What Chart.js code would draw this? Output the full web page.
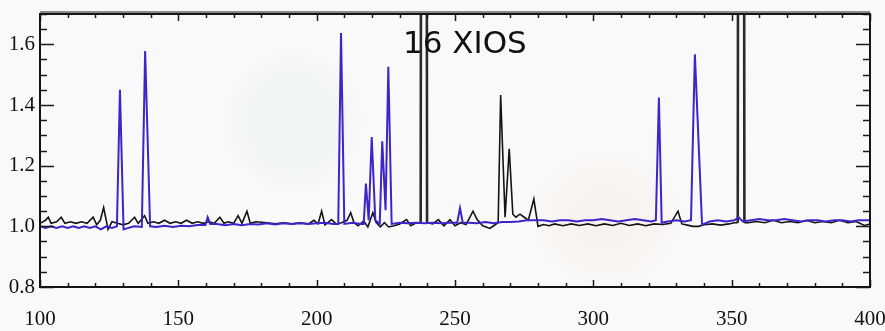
<!DOCTYPE html>
<html lang="en">
<head>
  <meta charset="UTF-8">
  <title>16 XIOS</title>
  <script src="https://cdn.jsdelivr.net/npm/chart.js"></script>
  <style>
    html, body { margin: 0; padding: 0; }
    body {
      width: 885px;
      height: 331px;
      overflow: hidden;
      position: relative;
      background:
        radial-gradient(ellipse 70px 72px at 293px 122px, rgba(240,243,244,0.95) 0, rgba(241,244,245,0.8) 50px, rgba(249,249,249,0) 72px),
        radial-gradient(ellipse 75px 70px at 606px 218px, rgba(248,242,239,0.95) 0, rgba(248,243,240,0.8) 52px, rgba(249,249,249,0) 75px),
        #f9f9f9;
    }
    #chart { position: absolute; left: 0; top: 0; }
    #label {
      position: absolute;
      left: 403px;
      top: 24px;
      font: 31px "DejaVu Sans", sans-serif;
      color: #111;
      white-space: nowrap;
    }
  </style>
</head>
<body>
  <canvas id="chart" width="885" height="331"></canvas>
  <div id="label">16 XIOS</div>

  <script>
    // tick labels
    const xTickLabels = [100, 150, 200, 250, 300, 350, 400];
    const yTickLabels = [0.8, 1.0, 1.2, 1.4, 1.6];

    // black series (x, y)
    const blackX = [100, 102, 103, 104, 106, 107.7, 109, 111, 113, 115, 117, 119.2, 120.5, 121.8, 123, 124.6, 126, 128, 130, 132,
      134.2, 135.5, 137.8, 139, 141, 143, 145, 147, 149, 151, 153, 155, 157, 159, 161, 163, 165, 166.5, 168, 170,
      171.6, 173, 174.8, 176, 178, 182, 185, 188, 191, 194, 197, 199, 200.5, 201.8, 203, 205.4, 207, 209, 211, 212.3,
      213.5, 215, 217, 218.5, 220.3, 221.5, 223, 224.5, 226, 228, 230, 232.5, 234, 236, 237.6, 238.8, 239.9, 242, 244, 246,
      248.2, 250, 252, 254, 256.5, 258, 260, 262.6, 264, 265.6, 266.5, 268.1, 269.6, 270.9, 272, 273.5, 275, 276.5, 278.5, 280,
      282, 284, 286, 289, 292, 295, 298, 301, 304, 307, 310, 313, 316, 319, 322, 325, 328, 330.6, 332, 334,
      336, 338, 340, 343, 346, 349, 351, 352.2, 353.4, 354.6, 356, 359, 362, 365, 368, 371, 374, 377, 380, 383,
      386, 389, 392, 395, 398, 400];
    const blackY = [1.01, 1.02, 1.03, 1.01, 1.015, 1.03, 1.01, 1.015, 1.01, 1.015, 1.01, 1.03, 1.005, 1.02, 1.062, 0.99, 1.015, 1.01, 1.005, 1.01,
      1.03, 1.01, 1.035, 1.01, 1.015, 1.01, 1.02, 1.01, 1.015, 1.01, 1.02, 1.01, 1.015, 1.01, 1.015, 1.01, 1.03, 1.01, 1.015, 1.01,
      1.035, 1.01, 1.05, 1.01, 1.015, 1.012, 1.008, 1.012, 1.008, 1.012, 1.008, 1.02, 1.008, 1.05, 1.005, 1.022, 1.008, 1.012, 1.02, 1.045,
      1.012, 1.002, 1.018, 0.998, 1.045, 1.012, 0.998, 1.012, 0.998, 1.002, 1.008, 1.022, 1.002, 1.012, 1.012, 12, 1.012, 1.008, 1.022, 1.002,
      1.022, 1.002, 1.012, 1.006, 1.05, 1.022, 1.002, 0.993, 1.002, 1.012, 1.433, 1.03, 1.256, 1.04, 1.03, 1.04, 1.03, 1.02, 1.09, 1.0,
      1.006, 1.002, 1.008, 1.002, 1.008, 1.003, 1.008, 1.002, 1.008, 1.003, 1.01, 1.003, 1.008, 1.002, 1.008, 1.006, 1.01, 1.05, 1.008, 1.004,
      1.0, 1.0, 1.005, 1.008, 1.004, 1.008, 1.012, 1.012, 12, 1.012, 1.012, 1.016, 1.012, 1.02, 1.012, 1.016, 1.012, 1.02, 1.012, 1.016,
      1.012, 1.02, 1.012, 1.016, 1.003, 1.008];

    // blue series (x, y)
    const blueX = [100, 102, 104, 106, 108, 110, 112, 114, 116, 118, 120, 122, 124, 126, 127.8, 128.9, 130.2, 132, 134, 136.8,
      138, 139.8, 142, 145, 148, 151, 154, 157, 159.8, 160.6, 161.5, 164, 167, 170, 173, 176, 179, 182, 185, 188,
      191, 194, 197, 200, 203, 206, 207.8, 208.8, 210, 213, 216, 217, 217.8, 218.8, 219.9, 221.2, 222.8, 223.7, 224.9, 225.9,
      227.1, 230, 233, 236, 239, 242, 245, 248, 250.8, 251.8, 252.8, 255, 258, 261, 264, 267, 270, 273, 276, 279,
      282, 285, 288, 291, 294, 297, 300, 303, 306, 309, 312, 315, 318, 321, 322.6, 323.7, 324.7, 327, 330, 333,
      335.3, 336.7, 339.3, 342, 345, 348, 351, 352.5, 354, 357, 360, 363, 366, 369, 372, 375, 378, 381, 384, 387,
      390, 393, 396, 399, 400];
    const blueY = [1.0, 0.995, 1.0, 0.995, 1.0, 0.995, 1.0, 0.995, 1.0, 0.995, 1.0, 0.99, 1.0, 0.995, 1.0, 1.45, 0.99, 0.995, 1.0, 0.998,
      1.578, 1.0, 0.998, 1.002, 0.998, 1.002, 1.0, 1.004, 1.004, 1.03, 1.008, 1.008, 1.004, 1.008, 1.004, 1.008, 1.006, 1.01, 1.006, 1.01,
      1.008, 1.01, 1.008, 1.01, 1.012, 1.008, 1.008, 1.637, 1.008, 1.012, 1.008, 1.008, 1.141, 1.02, 1.294, 1.02, 1.008, 1.28, 1.053, 1.526,
      1.008, 1.012, 1.01, 1.012, 1.01, 1.012, 1.01, 1.012, 1.012, 1.06, 1.012, 1.012, 1.01, 1.014, 1.01, 1.014, 1.014, 1.016, 1.02, 1.02,
      1.02, 1.016, 1.02, 1.02, 1.016, 1.02, 1.02, 1.024, 1.02, 1.016, 1.02, 1.024, 1.02, 1.016, 1.02, 1.425, 1.012, 1.016, 1.02, 1.016,
      1.02, 1.567, 1.005, 1.016, 1.02, 1.016, 1.02, 1.03, 1.016, 1.02, 1.024, 1.02, 1.02, 1.024, 1.02, 1.016, 1.02, 1.02, 1.016, 1.02,
      1.02, 1.016, 1.02, 1.02, 1.02];

    const tickFont = { family: "'Liberation Serif', serif", size: 21 };

    // frame + inward ticks on all four sides
    const framePlugin = {
      id: 'frame',
      afterDraw(chart) {
        const { ctx, chartArea: a, scales } = chart;
        const xs = scales.x, ys = scales.y;
        ctx.save();
        ctx.strokeStyle = '#1a1a1a';
        ctx.lineWidth = 1.5;
        for (let v = xs.min; v <= xs.max; v += 10) {
          const px = Math.round(xs.getPixelForValue(v)) + 0.5;
          const len = v % 50 === 0 ? 7 : 4;
          ctx.beginPath();
          ctx.moveTo(px, a.bottom); ctx.lineTo(px, a.bottom - len);
          ctx.moveTo(px, a.top); ctx.lineTo(px, a.top + len);
          ctx.stroke();
        }
        for (let i = 0; i <= 18; i++) {
          const v = ys.min + i * 0.05;
          const py = Math.round(ys.getPixelForValue(v)) + 0.5;
          const len = i % 4 === 0 ? 14 : 7;
          ctx.beginPath();
          ctx.moveTo(a.left, py); ctx.lineTo(a.left + len, py);
          ctx.moveTo(a.right, py); ctx.lineTo(a.right - len, py);
          ctx.stroke();
        }
        ctx.strokeStyle = '#8a8a8a';
        ctx.lineWidth = 3;
        ctx.beginPath();
        ctx.moveTo(a.left, a.top - 1.5); ctx.lineTo(a.right, a.top - 1.5);
        ctx.stroke();
        ctx.strokeStyle = '#141414';
        ctx.lineWidth = 2;
        ctx.strokeRect(a.left, a.top, a.right - a.left, a.bottom - a.top);
        ctx.restore();
      }
    };

    new Chart(document.getElementById('chart').getContext('2d'), {
      type: 'line',
      data: {
        datasets: [
          {
            label: 'blue',
            data: blueX.map((x, i) => ({ x: x, y: blueY[i] })),
            borderColor: '#3d25c9',
            borderWidth: 2,
            pointRadius: 0,
            tension: 0,
            fill: false
          },
          {
            label: 'black',
            data: blackX.map((x, i) => ({ x: x, y: blackY[i] })),
            borderColor: '#141414',
            borderWidth: 1.6,
            pointRadius: 0,
            tension: 0,
            fill: false,
            segment: {
              borderWidth: c => (c.p0.parsed.y > 2 || c.p1.parsed.y > 2) ? 2.6 : undefined,
              borderColor: c => (c.p0.parsed.y > 2 || c.p1.parsed.y > 2) ? '#2a2a2a' : undefined
            }
          }
        ]
      },
      options: {
        responsive: false,
        animation: false,
        layout: { padding: { top: 14, right: 15, left: 0, bottom: 0 } },
        plugins: { legend: { display: false }, tooltip: { enabled: false } },
        scales: {
          x: {
            type: 'linear',
            min: 100,
            max: 400,
            grid: { display: false, drawTicks: false },
            border: { display: false },
            afterBuildTicks: s => { s.ticks = xTickLabels.map(v => ({ value: v })); },
            afterFit: s => { s.height = 44; s.paddingLeft = 0; s.paddingRight = 0; },
            ticks: { font: tickFont, color: '#111', padding: 20, maxRotation: 0, autoSkip: false }
          },
          y: {
            type: 'linear',
            min: 0.8,
            max: 1.7,
            grid: { display: false, drawTicks: false },
            border: { display: false },
            afterBuildTicks: s => { s.ticks = yTickLabels.map(v => ({ value: v })); },
            afterFit: s => { s.width = 40; s.paddingTop = 0; s.paddingBottom = 0; },
            ticks: { font: tickFont, color: '#111', padding: 5, callback: v => v.toFixed(1) }
          }
        }
      },
      plugins: [framePlugin]
    });
  </script>
</body>
</html>
